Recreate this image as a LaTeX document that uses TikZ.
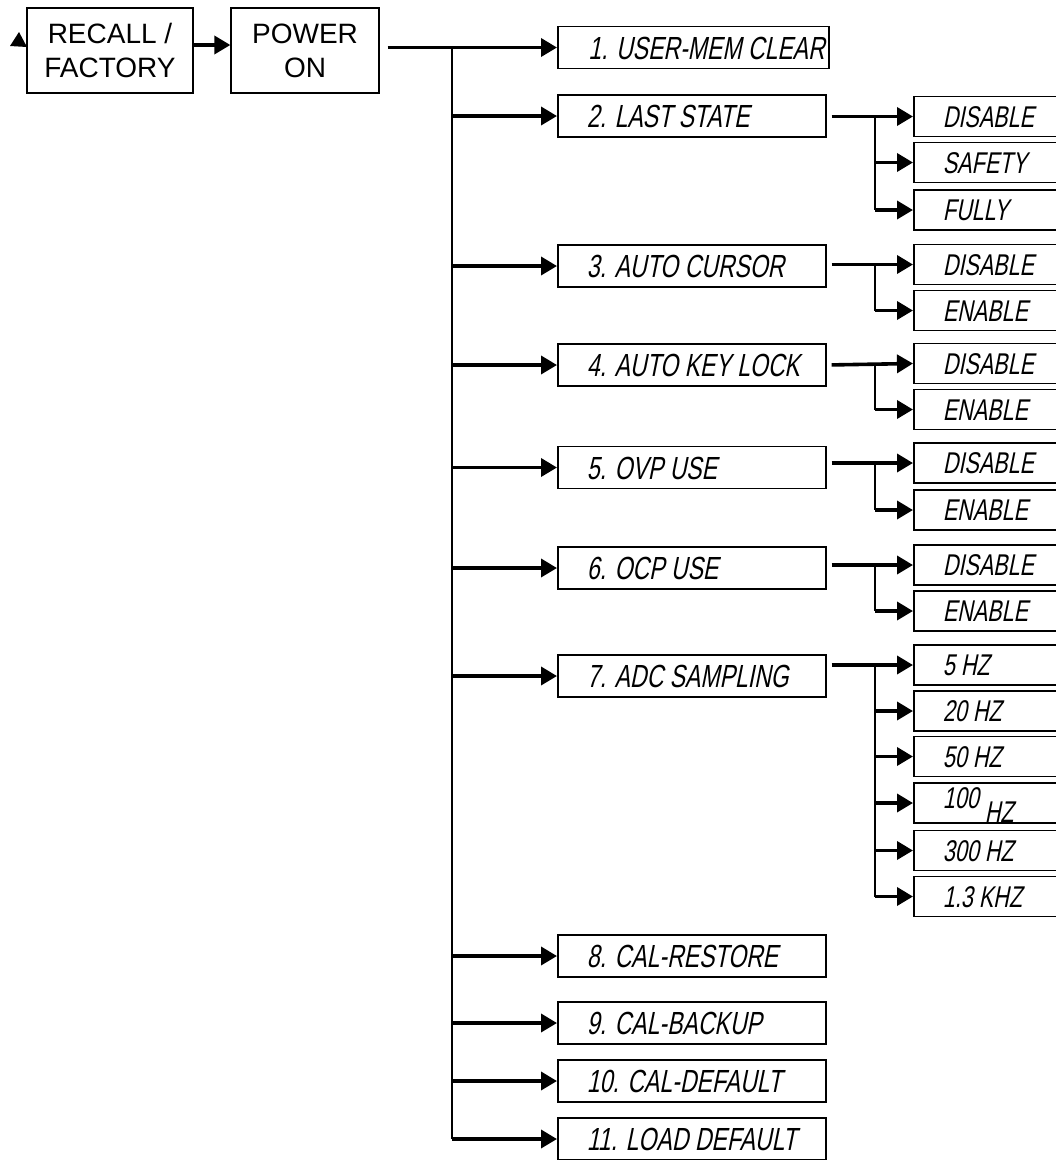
\documentclass[tikz,border=0pt]{standalone}
\usepackage{fontspec}
\setmainfont{Liberation Sans}
\newfontfamily\lcdfont[FakeStretch=0.72,FakeSlant=0.2]{Liberation Sans}
\usetikzlibrary{arrows.meta}
\newcommand{\menutxt}[1]{\makebox[210pt][l]{#1}}
\newcommand{\opttxt}[1]{\makebox[122pt][l]{#1}}

\begin{document}
\begin{tikzpicture}[x=1pt, y=-1pt,
  keybox/.style={draw, line width=1.3pt, minimum height=85pt, inner sep=0pt,
    align=center, font=\fontsize{28}{34}\selectfont},
  menubox/.style={draw, line width=1.6pt, anchor=west, minimum width=268pt,
    minimum height=42pt, inner xsep=29pt, inner ysep=0pt, text height=23pt,
    text depth=0pt, font=\lcdfont\fontsize{32}{36}\selectfont},
  optbox/.style={draw, line width=1.6pt, anchor=west, minimum width=180pt,
    minimum height=40pt, inner xsep=29pt, inner ysep=0pt, text height=21pt,
    text depth=0pt, font=\lcdfont\fontsize{30}{34}\selectfont},
  arr/.style={line width=3.6pt, -{Triangle[length=16pt, width=18pt]}},
  branch/.style={line width=2.2pt}]

% Page size of the reference
\clip (0,0) rectangle (1056,1160);

% Key boxes
\node[keybox, minimum width=166pt] (rcl) at (110,50.5) {RECALL /\\FACTORY};
\node[keybox, minimum width=148pt] (pwr) at (305,50.5) {POWER\\ON};
\fill (10,46) -- (19,32) -- (27,47) -- cycle;
\draw[arr] ([yshift=5.5pt]rcl.east) -- ([yshift=5.5pt]pwr.west);

% Menu items
\node[menubox, minimum width=271pt] (m1) at (557,47.5) {\menutxt{1. USER-MEM CLEAR}};
\node[menubox] (m2) at (557,116) {\menutxt{2. LAST STATE}};
\node[menubox] (m3) at (557,266) {\menutxt{3. AUTO CURSOR}};
\node[menubox] (m4) at (557,365) {\menutxt{4. AUTO KEY LOCK}};
\node[menubox] (m5) at (557,467.5) {\menutxt{5. OVP USE}};
\node[menubox] (m6) at (557,568) {\menutxt{6. OCP USE}};
\node[menubox] (m7) at (557,676) {\menutxt{7. ADC SAMPLING}};
\node[menubox] (m8) at (557,956) {\menutxt{8. CAL-RESTORE}};
\node[menubox] (m9) at (557,1023) {\menutxt{9. CAL-BACKUP}};
\node[menubox] (m10) at (557,1081) {\menutxt{10. CAL-DEFAULT}};
\node[menubox] (m11) at (557,1139) {\menutxt{11. LOAD DEFAULT}};

% Trunk from POWER ON
\coordinate (trunk) at (452,0);
\draw[arr, shorten <=8pt] (pwr.east |- m1.west) -- (m1.west);
\draw[branch] (trunk |- m1.west) -- (trunk |- m11.west);
\foreach \m in {m2,m3,m4,m5,m6,m7,m8,m9,m10,m11}
  \draw[arr] (trunk |- \m.west) -- (\m.west);

% Option boxes
\foreach \s/\y/\t in {s2a/116.5/DISABLE, s2b/162.5/SAFETY, s2c/210/FULLY,
    s3a/264.5/DISABLE, s3b/310.5/ENABLE, s4a/363.5/DISABLE, s4b/409.5/ENABLE,
    s5a/463/DISABLE, s5b/510/ENABLE, s6a/565/DISABLE, s6b/611/ENABLE,
    s7a/665/5 HZ, s7b/711/20 HZ, s7c/756.5/50 HZ,
    s7d/803/{\raisebox{5pt}{100} \raisebox{-9pt}{HZ}},
    s7e/850.5/300 HZ, s7f/896.5/1.3 KHZ}
  \node[optbox] (\s) at (913,\y) {\opttxt{\t}};

% Option branches
\coordinate (j) at (875,0);
\draw[arr, shorten <=5pt] (m2.east |- s2a.west) -- (s2a.west);
\draw[branch] (j |- s2a.west) -- (j |- s2c.west);
\foreach \s in {s2b,s2c} \draw[arr] (j |- \s.west) -- (\s.west);

\draw[arr, shorten <=5pt] (m3.east |- s3a.west) -- (s3a.west);
\draw[branch] (j |- s3a.west) -- (j |- s3b.west);
\draw[arr] (j |- s3b.west) -- (s3b.west);

\draw[arr, shorten <=5pt] (m4.east) -- (s4a.west);
\draw[branch] (j |- s4a.west) -- (j |- s4b.west);
\draw[arr] (j |- s4b.west) -- (s4b.west);

\draw[arr, shorten <=5pt] (m5.east |- s5a.west) -- (s5a.west);
\draw[branch] (j |- s5a.west) -- (j |- s5b.west);
\draw[arr] (j |- s5b.west) -- (s5b.west);

\draw[arr, shorten <=5pt] (m6.east |- s6a.west) -- (s6a.west);
\draw[branch] (j |- s6a.west) -- (j |- s6b.west);
\draw[arr] (j |- s6b.west) -- (s6b.west);

\draw[arr, shorten <=5pt] (m7.east |- s7a.west) -- (s7a.west);
\draw[branch] (j |- s7a.west) -- (j |- s7f.west);
\foreach \s in {s7b,s7c,s7d,s7e,s7f} \draw[arr] (j |- \s.west) -- (\s.west);
\end{tikzpicture}
\end{document}
